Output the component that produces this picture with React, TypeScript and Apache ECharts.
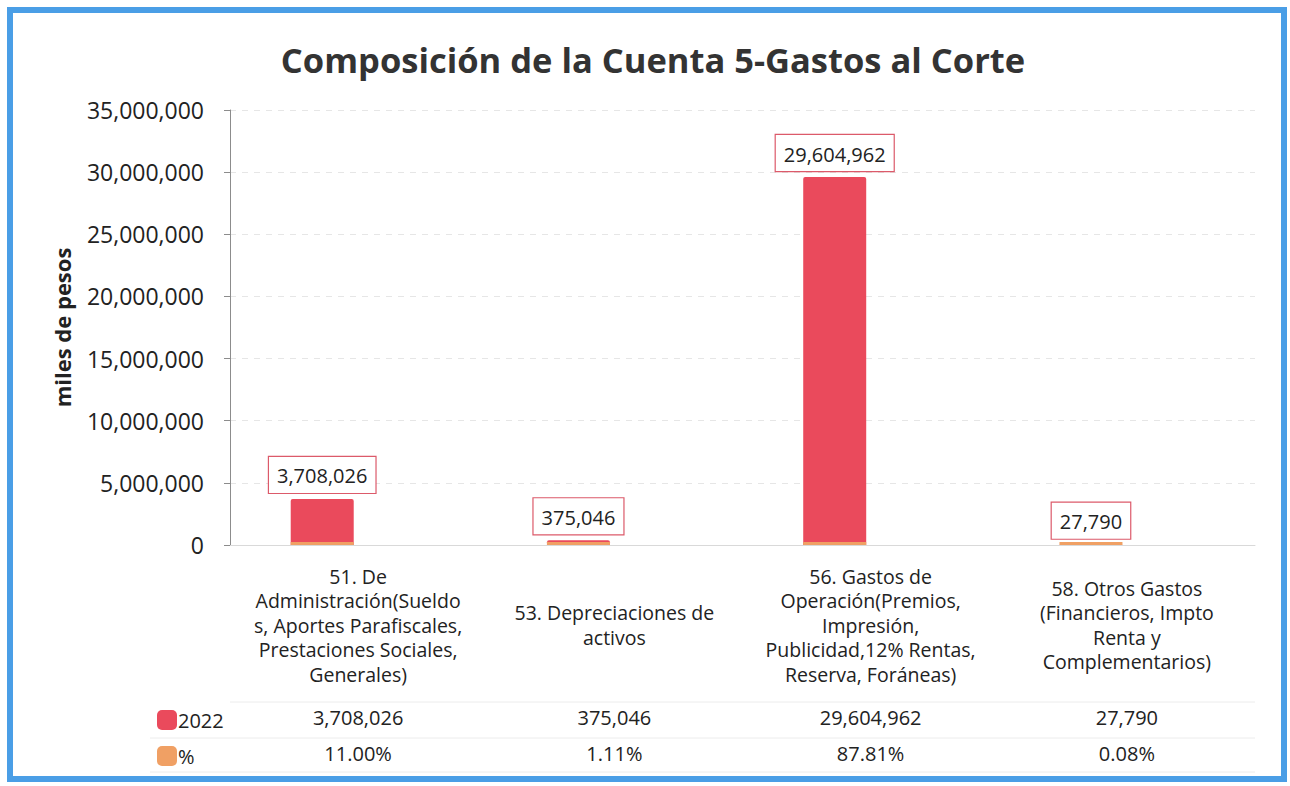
import React, { useEffect, useRef } from "react";
import * as echarts from "echarts";

const categories = [
  "51. De\nAdministración(Sueldo\ns, Aportes Parafiscales,\nPrestaciones Sociales,\nGenerales)",
  "53. Depreciaciones de\nactivos",
  "56. Gastos de\nOperación(Premios,\nImpresión,\nPublicidad,12% Rentas,\nReserva, Foráneas)",
  "58. Otros Gastos\n(Financieros, Impto\nRenta y\nComplementarios)",
];
const values2022 = [3708026, 375046, 29604962, 27790];
const percents = [11.0, 1.11, 87.81, 0.08];
const yTicks = [0, 5000000, 10000000, 15000000, 20000000, 25000000, 30000000, 35000000];

const FONT = "'Open Sans', 'Noto Sans', sans-serif";
const fmt = (v: number) => v.toLocaleString("en-US");

export default function App() {
  const ref = useRef<HTMLDivElement>(null);
  useEffect(() => {
    document.body.style.margin = "0";
    const chart = echarts.init(ref.current!, null, { renderer: "svg" });
    const option: any = {
      animation: false,
      backgroundColor: "#ffffff",
      textStyle: { fontFamily: FONT },
      title: {
        text: "Composición de la Cuenta 5-Gastos al Corte",
        left: 648,
        textAlign: "center",
        top: 37,
        textStyle: { fontFamily: FONT, fontSize: 34.5, fontWeight: "bold", color: "#333333" },
      },
      legend: {
        orient: "vertical",
        left: 152,
        top: 705,
        itemWidth: 20,
        itemHeight: 20,
        itemGap: 16,
        icon: "roundRect",
        data: ["2022", "%"],
        textStyle: { fontFamily: FONT, fontSize: 20, color: "#222222", padding: [0, 0, 0, -4] },
      },
      grid: { left: 230, right: 35, top: 110, bottom: 241 },
      xAxis: [
        {
          type: "category",
          data: categories,
          axisLine: { show: true, lineStyle: { color: "#d9d9d9" } },
          axisTick: { show: false },
          axisLabel: {
            interval: 0,
            margin: 80,
            verticalAlign: "middle",
            lineHeight: 24.5,
            fontFamily: FONT,
            fontSize: 19.5,
            color: "#222222",
          },
        },
        {
          type: "category",
          data: values2022.map(fmt),
          position: "bottom",
          axisLine: { show: false },
          axisTick: { show: false },
          axisLabel: { interval: 0, margin: 172, verticalAlign: "middle", fontFamily: FONT, fontSize: 20, color: "#222222" },
        },
        {
          type: "category",
          data: percents.map((p) => p.toFixed(2) + "%"),
          position: "bottom",
          axisLine: { show: false },
          axisTick: { show: false },
          axisLabel: { interval: 0, margin: 208, verticalAlign: "middle", fontFamily: FONT, fontSize: 20, color: "#222222" },
        },
      ],
      yAxis: {
        type: "value",
        min: 0,
        max: yTicks[yTicks.length - 1],
        interval: yTicks[1] - yTicks[0],
        name: "miles de pesos",
        nameLocation: "middle",
        nameRotate: 90,
        nameGap: 157,
        nameTextStyle: { fontFamily: FONT, fontSize: 22, fontWeight: "bold", color: "#222222" },
        axisLine: { show: true, lineStyle: { color: "#8c8c8c" } },
        axisTick: { show: true, length: 6, lineStyle: { color: "#8c8c8c" } },
        axisLabel: { margin: 26, fontFamily: FONT, fontSize: 23, color: "#222222", formatter: (v: number) => fmt(v) },
        splitLine: { show: true, lineStyle: { color: "#e6e6e6", type: [6, 6] } },
      },
      series: [
        {
          name: "%",
          type: "bar",
          stack: "s",
          barWidth: 63,
          barGap: "14%",
          barMinHeight: 3,
          z: 3,
          data: percents,
          itemStyle: { color: "#f0a064" },
        },
        {
          name: "2022",
          type: "bar",
          stack: "s",
          barWidth: 63,
          barGap: "14%",
          data: values2022,
          itemStyle: { color: "#ea4a5c", borderRadius: [2, 2, 0, 0] },
          label: {
            show: true,
            position: "top",
            distance: 6,
            formatter: (p: any) => fmt(p.value),
            fontFamily: FONT,
            fontSize: 20,
            color: "#222222",
            backgroundColor: "#ffffff",
            borderColor: "#dc5a6a",
            borderWidth: 1.2,
            padding: [9, 8, 7, 8],
          },
        },
        {
          name: "placeholder",
          type: "bar",
          stack: "p",
          barWidth: 63,
          data: [null, null, null, null],
          silent: true,
        },
      ],
      graphic: [
        {
          type: "rect",
          shape: { x: 10, y: 10, width: 1274, height: 769 },
          style: { fill: "none", stroke: "#4a9ee6", lineWidth: 6 },
          silent: true,
        },
        { type: "line", shape: { x1: 230, y1: 702, x2: 1255, y2: 702 }, style: { stroke: "#ececec", lineWidth: 1 } },
        { type: "line", shape: { x1: 150, y1: 738, x2: 1255, y2: 738 }, style: { stroke: "#ececec", lineWidth: 1 } },
        { type: "line", shape: { x1: 150, y1: 772, x2: 1255, y2: 772 }, style: { stroke: "#ececec", lineWidth: 1 } },
      ],
    };
    chart.setOption(option);
    return () => chart.dispose();
  }, []);
  return <div ref={ref} style={{ width: 1290, height: 786 }} />;
}
